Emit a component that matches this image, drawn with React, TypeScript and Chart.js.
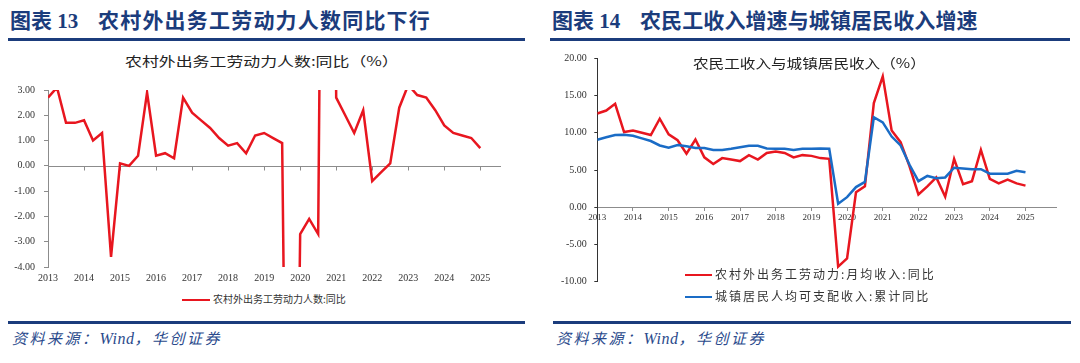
import React, { useEffect, useRef } from 'react';
import { Chart, registerables } from 'chart.js';

Chart.register(...registerables);

// ---------- data ----------
const years = ['2013', '2014', '2015', '2016', '2017', '2018', '2019', '2020', '2021', '2022', '2023', '2024', '2025'];

// 农村外出务工劳动力人数:同比 (%), quarterly
const migrantWorkersYoY = [
  2.7, 3.1, 1.7, 1.7, 1.8, 1.0, 1.3, -3.6, 0.1, 0.0, 0.4, 2.9, 0.4, 0.5, 0.3, 2.7,
  2.1, 1.8, 1.5, 1.1, 0.8, 0.9, 0.5, 1.2, 1.3, 1.1, 0.9, -30.6, -2.7, -2.1, -2.7, 40.1,
  2.7, 2.0, 1.3, 2.2, -0.6, -0.25, 0.1, 2.3, 3.2, 2.8, 2.7, 2.2, 1.6, 1.3, 1.2, 1.1, 0.7,
];

// 农村外出务工劳动力:月均收入:同比 (%)
const migrantIncomeYoY = [
  12.6, 13.0, 13.9, 10.1, 10.3, 10.0, 9.7, 11.9, 9.8, 9.0, 7.2, 9.1, 6.7, 5.8, 6.6, 6.4,
  6.2, 7.0, 6.4, 7.3, 7.5, 7.3, 6.7, 7.0, 6.9, 6.6, 6.5, -8.0, -6.9, 2.0, 2.8, 14.0,
  17.6, 10.3, 8.75, 5.5, 1.7, 2.8, 4.0, 1.4, 6.5, 3.1, 3.5, 7.7, 3.8, 3.2, 3.7, 3.2, 2.9,
];

// 城镇居民人均可支配收入:累计同比 (%)
const urbanIncomeYoY = [
  9.07, 9.4, 9.7, 9.75, 9.6, 9.25, 8.9, 8.3, 8.0, 8.35, 8.2, 7.95, 7.95, 7.7, 7.7, 7.85,
  8.05, 8.25, 8.25, 7.9, 7.85, 7.85, 7.7, 7.85, 7.85, 7.9, 7.85, 0.45, 1.35, 2.7, 3.4, 12.1,
  11.4, 9.5, 8.3, 5.7, 3.5, 4.2, 3.9, 4.0, 5.3, 5.2, 5.1, 5.1, 4.5, 4.5, 4.5, 4.9, 4.7,
];

const leftSeriesLabel = '农村外出务工劳动力人数:同比';
const rightSeriesLabels = ['农村外出务工劳动力:月均收入:同比', '城镇居民人均可支配收入:累计同比'];

const RED = '#e8161f';
const BLUE = '#1a6cc6';
const NAVY = '#1b3c7c';
const TICK_FONT = '"Liberation Serif", "Times New Roman", serif';
const CJK = '"Noto Sans CJK SC", "Noto Sans", sans-serif';

const toPoints = (arr: number[]) => arr.map((v, i) => ({ x: i, y: v }));

const yearTicks = (scale: any) => {
  scale.ticks = years.map((_, i) => ({ value: i * 4 }));
};

const zeroAxisPlugin = {
  id: 'zeroAxis',
  beforeDatasetsDraw(chart: any, _args: any, opts: any) {
    if (!opts || !opts.enabled) return;
    const { ctx, chartArea, scales } = chart;
    const y = Math.round(scales.y.getPixelForValue(0)) + 0.5;
    ctx.save();
    ctx.strokeStyle = opts.color;
    ctx.lineWidth = 1;
    ctx.beginPath();
    ctx.moveTo(chartArea.left, y);
    ctx.lineTo(chartArea.right, y);
    scales.x.ticks.forEach((t: any) => {
      const x = Math.round(scales.x.getPixelForValue(t.value)) + 0.5;
      ctx.moveTo(x, y);
      ctx.lineTo(x, y + opts.tickLength);
    });
    ctx.stroke();
    ctx.restore();
  },
};

function LeftChart() {
  const ref = useRef<HTMLCanvasElement>(null);
  useEffect(() => {
    const chart = new Chart(ref.current!, {
      type: 'line',
      data: {
        datasets: [
          {
            label: leftSeriesLabel,
            data: toPoints(migrantWorkersYoY),
            borderColor: RED,
            backgroundColor: RED,
            borderWidth: 2.5,
            pointRadius: 0,
            tension: 0,
            clip: 0,
          } as any,
        ],
      },
      plugins: [zeroAxisPlugin],
      options: {
        responsive: false,
        animation: false,
        layout: { padding: { left: 8, right: 29, top: 11, bottom: 0 } },
        plugins: {
          legend: { display: false },
          tooltip: { enabled: false },
          zeroAxis: { enabled: true, color: '#8c8c8c', tickLength: 4 },
        } as any,
        scales: {
          x: {
            type: 'linear',
            min: 0,
            max: 50.3,
            afterBuildTicks: yearTicks,
            afterFit: (s: any) => { s.height = 20; },
            grid: { display: false, drawTicks: false },
            border: { display: false },
            ticks: {
              autoSkip: false,
              maxRotation: 0,
              padding: 5,
              color: '#333',
              font: { family: TICK_FONT, size: 10 },
              callback: (v: any) => years[Math.round(v / 4)] ?? '',
            },
          },
          y: {
            min: -4,
            max: 3,
            afterFit: (s: any) => { s.width = 40; },
            grid: { drawOnChartArea: false, drawTicks: true, tickLength: 4, color: '#8c8c8c' },
            border: { color: '#8c8c8c' },
            ticks: {
              stepSize: 1,
              padding: 9,
              color: '#333',
              font: { family: TICK_FONT, size: 10 },
              callback: (v: any) => Number(v).toFixed(2),
            },
          },
        },
      } as any,
    });
    return () => chart.destroy();
  }, []);
  return <canvas ref={ref} width={530} height={212} style={{ position: 'absolute', left: 0, top: 75 }} />;
}

function RightChart() {
  const ref = useRef<HTMLCanvasElement>(null);
  useEffect(() => {
    const chart = new Chart(ref.current!, {
      type: 'line',
      data: {
        datasets: [
          {
            label: rightSeriesLabels[0],
            data: toPoints(migrantIncomeYoY),
            borderColor: RED,
            backgroundColor: RED,
            borderWidth: 2.5,
            pointRadius: 0,
            tension: 0,
            order: 1,
          },
          {
            label: rightSeriesLabels[1],
            data: toPoints(urbanIncomeYoY),
            borderColor: BLUE,
            backgroundColor: BLUE,
            borderWidth: 2.5,
            pointRadius: 0,
            tension: 0,
            order: 0,
          },
        ],
      },
      options: {
        responsive: false,
        animation: false,
        layout: { padding: { left: 7.3, right: 13.3, top: 12.3, bottom: 0 } },
        plugins: { legend: { display: false }, tooltip: { enabled: false } },
        scales: {
          x: {
            type: 'linear',
            min: 0,
            max: 51.5,
            position: { y: 0 },
            afterBuildTicks: yearTicks,
            afterFit: (s: any) => { s.height = 14.3; },
            grid: { drawOnChartArea: false, drawTicks: true, tickLength: 3, color: '#8c8c8c' },
            border: { color: '#8c8c8c' },
            ticks: {
              autoSkip: false,
              maxRotation: 0,
              padding: 2,
              color: '#333',
              font: { family: TICK_FONT, size: 9 },
              callback: (v: any) => years[Math.round(v / 4)] ?? '',
            },
          },
          y: {
            min: -10,
            max: 20,
            afterFit: (s: any) => { s.width = 40; },
            grid: { drawOnChartArea: false, drawTicks: true, tickLength: 3, color: '#333' },
            border: { color: '#333' },
            ticks: {
              stepSize: 5,
              padding: 7.5,
              color: '#333',
              font: { family: TICK_FONT, size: 10 },
              callback: (v: any) => Number(v).toFixed(2),
            },
          },
        },
      } as any,
    });
    return () => chart.destroy();
  }, []);
  return <canvas ref={ref} width={520} height={250} style={{ position: 'absolute', left: 550, top: 45 }} />;
}

const abs = (left: number, top: number, extra: React.CSSProperties = {}): React.CSSProperties => ({
  position: 'absolute',
  left,
  top,
  whiteSpace: 'nowrap',
  ...extra,
});

function Title({ x, num, text, mainX, spacing }: { x: number; num: string; text: string; mainX: number; spacing: number }) {
  const st: React.CSSProperties = {
    fontFamily: '"Liberation Serif", "Noto Sans CJK SC", serif',
    fontWeight: 700,
    fontSize: 21,
    lineHeight: '21px',
    color: NAVY,
  };
  return (
    <>
      <div style={abs(x, 11, st)}>{'图表 ' + num}</div>
      <div style={abs(mainX, 11, { ...st, letterSpacing: spacing })}>{text}</div>
    </>
  );
}

function Rule({ x, y, w }: { x: number; y: number; w: number }) {
  return <div style={abs(x, y, { width: w, height: 3, background: NAVY })} />;
}

function Source({ x }: { x: number }) {
  const base: React.CSSProperties = {
    fontFamily: '"Liberation Serif", "Noto Sans CJK SC", serif',
    fontStyle: 'italic',
    color: '#2a4a8c',
  };
  return (
    <div style={abs(x, 330, { ...base, fontSize: 15, lineHeight: '18px', letterSpacing: 2.5 })}>
      资料来源：<span style={{ fontSize: 16, letterSpacing: 0.5 }}>Wind</span>，华创证券
    </div>
  );
}

function SubTitle({ x, y, text, sx }: { x: number; y: number; text: string; sx: number }) {
  return (
    <div
      style={abs(x, y, {
        fontFamily: CJK,
        fontSize: 13,
        lineHeight: '13px',
        color: '#222',
        transform: `scaleX(${sx})`,
        transformOrigin: 'left center',
      })}
    >
      {text}
    </div>
  );
}

function LegendItem({ x, y, color, text, size, spacing, lineW }: { x: number; y: number; color: string; text: string; size: number; spacing: number; lineW: number }) {
  return (
    <>
      <div style={abs(x, y - 1.25, { width: lineW, height: 2.5, background: color })} />
      <div
        style={abs(x + lineW + 3, y - size / 2 - 1, {
          fontFamily: CJK,
          fontSize: size,
          lineHeight: `${size}px`,
          letterSpacing: spacing,
          color: '#333',
        })}
      >
        {text}
      </div>
    </>
  );
}

export default function App() {
  return (
    <div style={{ position: 'absolute', left: 0, top: 0, width: 1080, height: 363, background: '#fff', overflow: 'hidden' }}>
      <Title x={10} num="13" mainX={98} text="农村外出务工劳动力人数同比下行" spacing={1.2} />
      <Title x={552} num="14" mainX={640} text="农民工收入增速与城镇居民收入增速" spacing={0.1} />
      <Rule x={8} y={38} w={517} />
      <Rule x={550} y={38} w={520} />

      <LeftChart />
      <RightChart />

      <SubTitle x={125} y={53.5} text="农村外出务工劳动力人数:同比（%）" sx={1.3} />
      <SubTitle x={693} y={56} text="农民工收入与城镇居民收入（%）" sx={1.2} />

      <LegendItem x={182} y={300} color={RED} text={leftSeriesLabel} size={10} spacing={0} lineW={28} />
      <LegendItem x={685} y={275} color={RED} text={rightSeriesLabels[0]} size={12} spacing={2} lineW={27} />
      <LegendItem x={685} y={297} color={BLUE} text={rightSeriesLabels[1]} size={12} spacing={2} lineW={27} />

      <Rule x={8} y={321} w={517} />
      <Rule x={553} y={321} w={518} />
      <Source x={12} />
      <Source x={556} />
    </div>
  );
}
